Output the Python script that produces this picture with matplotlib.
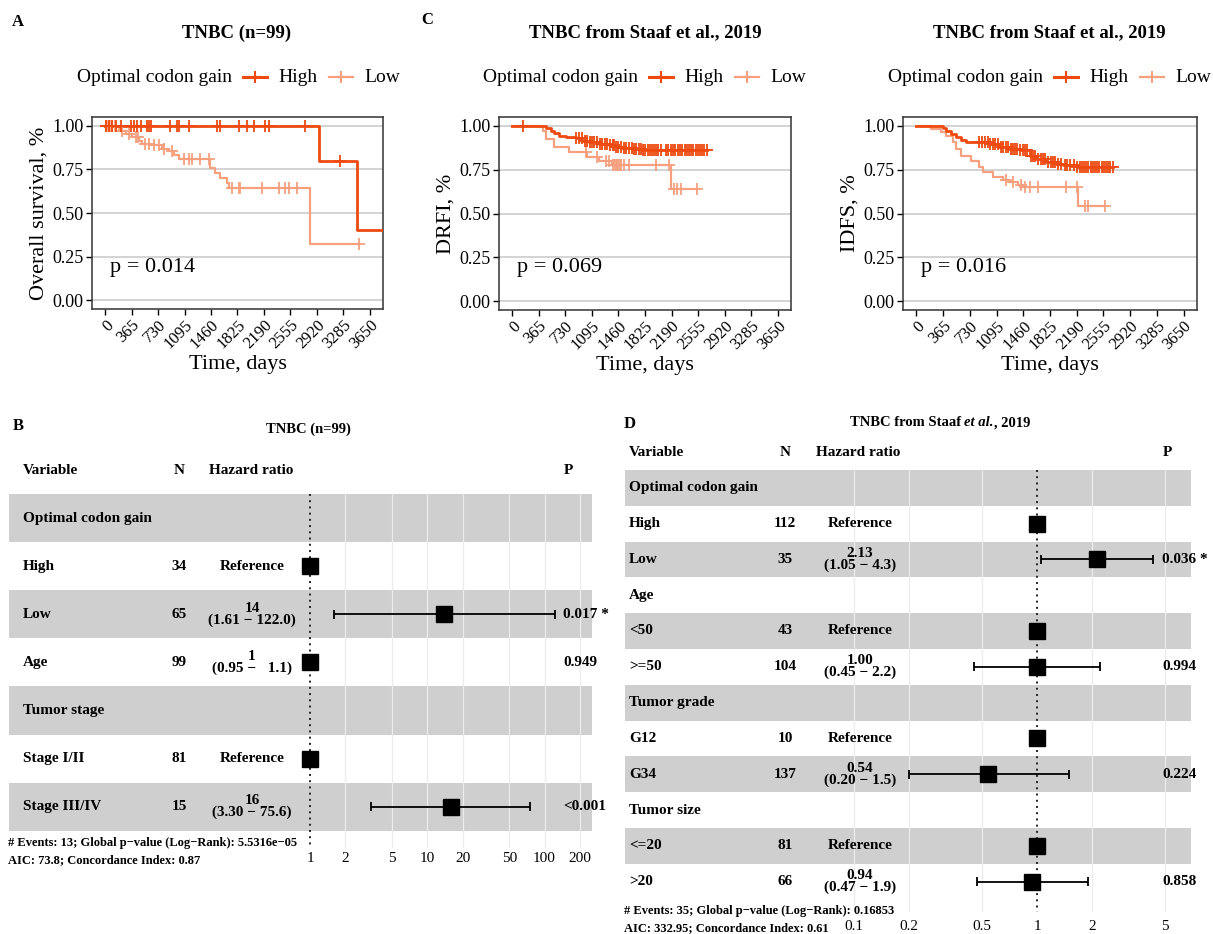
import numpy as np
import matplotlib.pyplot as plt
from matplotlib.lines import Line2D
from matplotlib.ticker import NullLocator
from matplotlib.transforms import blended_transform_factory

plt.rcParams['font.family'] = ['Liberation Serif', 'DejaVu Serif']

W, H = 1213, 934
HIGH_COL = '#EE4A10'
LOW_COL = '#F7A07F'
BAND = '#cfcfcf'

# ---------------- Kaplan-Meier curves ----------------
# A: overall survival, TNBC (n=99)
os_high_t = [0, 2950, 3470, 3900]
os_high_s = [1.0, 0.8, 0.4, 0.4]
os_high_cens = [5, 50, 96, 142, 211, 349, 395, 441, 487, 579, 602, 625, 900, 992,
                1024, 1162, 1543, 1589, 1842, 1956, 2048, 2208, 2254, 2759, 3241]
os_low_t = [0, 188, 280, 372, 462, 510, 624, 785, 877, 946, 1015, 1451, 1520, 1589,
            1681, 1704, 2828, 3503]
os_low_s = [1.0, 0.972, 0.953, 0.934, 0.915, 0.896, 0.887, 0.868, 0.853, 0.83, 0.812,
            0.755, 0.727, 0.699, 0.67, 0.646, 0.32, 0.32]
os_low_cens = [10, 40, 70, 100, 130, 234, 326, 418, 450, 555, 600, 670, 740, 808, 923,
               1084, 1153, 1199, 1314, 1429, 1750, 1842, 1865, 2163, 2392, 2484, 2530,
               2645, 3503]

# C: DRFI, Staaf et al. 2019
drfi_high_t = [0, 462, 531, 576, 645, 736, 873, 965, 1056, 1194, 1331, 1422, 1514,
               1651, 1788, 2680]
drfi_high_s = [1.0, 0.99, 0.97, 0.96, 0.944, 0.934, 0.928, 0.915, 0.908, 0.898, 0.889,
               0.88, 0.871, 0.866, 0.86, 0.86]
drfi_high_cens = [151, 880, 920, 960, 1000, 1030, 1070, 1100, 1130, 1160, 1200, 1240,
                  1270, 1300, 1340, 1380, 1400, 1430, 1460, 1500, 1530, 1560, 1600,
                  1640, 1680, 1700, 1740, 1770, 1800, 1830, 1860, 1890, 1920, 1950,
                  1980, 2010, 2040, 2110, 2140, 2180, 2210, 2240, 2280, 2310, 2340,
                  2370, 2400, 2430, 2460, 2490, 2520, 2550, 2580, 2610, 2640, 2680]
drfi_low_t = [0, 416, 462, 576, 782, 1034, 1194, 1377, 2177, 2543]
drfi_low_s = [1.0, 0.972, 0.925, 0.878, 0.849, 0.821, 0.80, 0.774, 0.638, 0.638]
drfi_low_cens = [1020, 1160, 1290, 1330, 1380, 1400, 1420, 1440, 1460, 1480, 1500,
                 1540, 1600, 1970, 2160, 2223, 2269, 2315, 2543]

# IDFS, Staaf et al. 2019
idfs_high_t = [0, 357, 402, 471, 540, 608, 677, 768, 997, 1134, 1271, 1409, 1546,
               1638, 1775, 1912, 2004, 2187, 2690]
idfs_high_s = [1.0, 0.99, 0.972, 0.953, 0.934, 0.92, 0.91, 0.906, 0.896, 0.88, 0.87,
               0.86, 0.83, 0.812, 0.793, 0.783, 0.774, 0.764, 0.764]
idfs_high_cens = [860, 900, 940, 980, 1010, 1050, 1080, 1120, 1150, 1180, 1220, 1250,
                  1290, 1320, 1350, 1380, 1420, 1450, 1480, 1510, 1560, 1590, 1620,
                  1660, 1700, 1730, 1760, 1800, 1840, 1870, 1900, 1940, 1980, 2030,
                  2060, 2100, 2150, 2200, 2230, 2260, 2290, 2320, 2350, 2380, 2410,
                  2440, 2470, 2500, 2530, 2560, 2590, 2620, 2650, 2690]
idfs_low_t = [0, 197, 334, 402, 494, 540, 608, 746, 860, 906, 1043, 1180, 1271, 1386,
              1454, 2209, 2575]
idfs_low_s = [1.0, 0.98, 0.962, 0.94, 0.906, 0.868, 0.83, 0.80, 0.764, 0.736, 0.708,
              0.69, 0.68, 0.66, 0.65, 0.54, 0.54]
idfs_low_cens = [1226, 1317, 1432, 1480, 1546, 1660, 2049, 2187, 2300, 2346, 2575]

km_xticks = [0, 365, 730, 1095, 1460, 1825, 2190, 2555, 2920, 3285, 3650]
km_yticks = [0.0, 0.25, 0.5, 0.75, 1.0]

# ---------------- Forest plot B: TNBC (n=99) ----------------
b_var = ["Optimal codon gain", "High", "Low", "Age", "Tumor stage", "Stage I/II",
         "Stage III/IV"]
b_n = ["", "34", "65", "99", "", "81", "15"]
b_hr = [np.nan, 1.0, 14.0, 1.0, np.nan, 1.0, 16.0]
b_lo = [np.nan, np.nan, 1.61, 0.95, np.nan, np.nan, 3.30]
b_hi = [np.nan, np.nan, 122.0, 1.1, np.nan, np.nan, 75.6]
b_hr_txt = ["", "Reference", "14\n(1.61 \u2212 122.0)", "1\n(0.95 \u2212   1.1)", "",
            "Reference", "16\n(3.30 \u2212 75.6)"]
b_p = ["", "", "0.017 *", "0.949", "", "", "<0.001"]
b_ticks = [1, 2, 5, 10, 20, 50, 100, 200]
b_foot = ["# Events: 13; Global p\u2212value (Log\u2212Rank): 5.5316e\u221205",
          "AIC: 73.8; Concordance Index: 0.87"]

# ---------------- Forest plot D: Staaf et al. 2019 ----------------
d_var = ["Optimal codon gain", "High", "Low", "Age", "<50", ">=50", "Tumor grade",
         "G12", "G34", "Tumor size", "<=20", ">20"]
d_n = ["", "112", "35", "", "43", "104", "", "10", "137", "", "81", "66"]
d_hr = [np.nan, 1.0, 2.13, np.nan, 1.0, 1.00, np.nan, 1.0, 0.54, np.nan, 1.0, 0.94]
d_lo = [np.nan, np.nan, 1.05, np.nan, np.nan, 0.45, np.nan, np.nan, 0.20, np.nan,
        np.nan, 0.47]
d_hi = [np.nan, np.nan, 4.3, np.nan, np.nan, 2.2, np.nan, np.nan, 1.5, np.nan,
        np.nan, 1.9]
d_hr_txt = ["", "Reference", "2.13\n(1.05 \u2212 4.3)", "", "Reference",
            "1.00\n(0.45 \u2212 2.2)", "", "Reference", "0.54\n(0.20 \u2212 1.5)", "",
            "Reference", "0.94\n(0.47 \u2212 1.9)"]
d_p = ["", "", "0.036 *", "", "", "0.994", "", "", "0.224", "", "", "0.858"]
d_ticks = [0.1, 0.2, 0.5, 1, 2, 5]
d_foot = ["# Events: 35; Global p\u2212value (Log\u2212Rank): 0.16853",
          "AIC: 332.95; Concordance Index: 0.61"]

fig = plt.figure(figsize=(W / 100, H / 100), dpi=100)


def rect(l, t, r, b):
    return [l / W, 1 - b / H, (r - l) / W, (b - t) / H]


def ftxt(x, y, s, **kw):
    return fig.text(x / W, 1 - y / H, s, **kw)


def km_panel(box, curves, ylabel, ptext, title, title_x, legend_x, letter=None):
    ax = fig.add_axes(rect(*box))
    for t, s, cens, col, lw in curves:
        t = np.array(t)
        s = np.array(s)
        ax.step(t, s, where='post', color=col, lw=lw, zorder=3)
        idx = np.searchsorted(t, cens, side='right') - 1
        ax.plot(cens, s[idx], ls='none', marker='+', ms=8, mew=1.3, color=col, zorder=4)
    ax.set_xlim(-182.5, 3832.5)
    ax.set_ylim(-0.05, 1.05)
    ax.set_xticks(km_xticks)
    ax.set_xticklabels([str(v) for v in km_xticks], rotation=45, ha='right',
                       va='top', rotation_mode='anchor', fontsize=12)
    ax.set_yticks(km_yticks)
    ax.set_yticklabels(['%.2f' % v for v in km_yticks], fontsize=13)
    ax.tick_params(length=4, width=1, pad=2)
    ax.yaxis.grid(True, color='#c8c8c8', lw=1.1)
    ax.set_axisbelow(True)
    for sp in ax.spines.values():
        sp.set_linewidth(1.1)
        sp.set_color('#333333')
    ax.set_xlabel('Time, days', fontsize=16, labelpad=2)
    ax.set_ylabel(ylabel, fontsize=16, labelpad=3)
    ax.text(60, 0.19, ptext, fontsize=16, va='center', ha='left')
    ftxt(title_x, 33, title, fontsize=13.5, fontweight='bold', ha='center', va='center')
    # legend drawn like ggplot's top legend
    ftxt(legend_x, 77, 'Optimal codon gain', fontsize=14, va='center', ha='left')
    for (k0, k1, tx, lab, col, lw) in [(166, 190, 201, 'High', HIGH_COL, 2.2),
                                        (252, 276, 287, 'Low', LOW_COL, 1.6)]:
        y = 1 - 77 / H
        fig.add_artist(Line2D([(legend_x + k0) / W, (legend_x + k1) / W], [y, y],
                              color=col, lw=lw))
        fig.add_artist(Line2D([(legend_x + (k0 + k1) / 2) / W], [y], color=col,
                              marker='+', ms=9, mew=1.5, ls='none'))
        ftxt(legend_x + tx, 77, lab, fontsize=14, va='center', ha='left')
    if letter:
        ftxt(letter[1], letter[2], letter[0], fontsize=12, fontweight='bold',
             ha='center', va='center')
    return ax


km_panel((92, 117, 383, 309),
         [(os_low_t, os_low_s, os_low_cens, LOW_COL, 1.6),
          (os_high_t, os_high_s, os_high_cens, HIGH_COL, 2.0)],
         'Overall survival, %', 'p = 0.014', 'TNBC (n=99)', 237, 77, ('A', 18, 22))
km_panel((499, 117, 791, 310),
         [(drfi_low_t, drfi_low_s, drfi_low_cens, LOW_COL, 1.6),
          (drfi_high_t, drfi_high_s, drfi_high_cens, HIGH_COL, 2.0)],
         'DRFI, %', 'p = 0.069', 'TNBC from Staaf et al., 2019', 645, 483,
         ('C', 427, 20))
km_panel((903, 117, 1197, 310),
         [(idfs_low_t, idfs_low_s, idfs_low_cens, LOW_COL, 1.6),
          (idfs_high_t, idfs_high_s, idfs_high_cens, HIGH_COL, 2.0)],
         'IDFS, %', 'p = 0.016', 'TNBC from Staaf et al., 2019', 1049, 888)


def forest(box, one_px, ppd, row0, row_h, var, n, hr, lo, hi, hr_txt, pv, cols,
           ticks, foot, foot_y, tick_pad):
    l, t, r, b = box
    ax = fig.add_axes(rect(l, t, r, b))
    ax.set_xscale('log')
    ax.set_xlim(10 ** ((l - one_px) / ppd), 10 ** ((r - one_px) / ppd))
    ybot = (b - row0) / row_h
    ax.set_ylim(ybot, (t - row0) / row_h)
    for sp in ax.spines.values():
        sp.set_visible(False)
    ax.set_yticks([])
    ax.set_xticks(ticks)
    ax.set_xticklabels([('%g' % v) for v in ticks])
    ax.xaxis.set_minor_locator(NullLocator())
    ax.tick_params(axis='x', length=0, pad=tick_pad, labelsize=11)
    rows = np.arange(1, len(var) + 1)
    for i in rows:
        if i % 2 == 1:
            ax.axhspan(i - 0.5, i + 0.5, color=BAND, lw=0, zorder=0)
    grid = [v for v in ticks if v != 1]
    ax.vlines(grid, 0.5, ybot, color='#ececec', lw=0.9, zorder=1)
    ax.vlines(1, 0.5, ybot, colors='#222222', linestyles=(0, (1, 2.2)), lw=1.4,
              zorder=2)
    cap = 4.5 / row_h
    lo = np.array(lo)
    hi = np.array(hi)
    ok = ~np.isnan(lo)
    ax.hlines(rows[ok], lo[ok], hi[ok], color='black', lw=1.3, zorder=3)
    ax.vlines(np.concatenate([lo[ok], hi[ok]]), np.concatenate([rows[ok], rows[ok]]) - cap,
              np.concatenate([rows[ok], rows[ok]]) + cap, color='black', lw=1.3, zorder=3)
    ax.plot(hr, rows, ls='none', marker='s', ms=11, color='black', zorder=4)
    tr = blended_transform_factory(fig.transFigure, ax.transData)
    kw = dict(transform=tr, fontsize=11, fontweight='bold', va='center')
    ax.text(cols['var'] / W, 0, 'Variable', ha='left', **kw)
    ax.text(cols['n'] / W, 0, 'N', ha='center', **kw)
    ax.text(cols['hrh'] / W, 0, 'Hazard ratio', ha='left', **kw)
    ax.text(cols['ph'] / W, 0, 'P', ha='center', **kw)
    for i, v, nn, ht, p in zip(rows, var, n, hr_txt, pv):
        ax.text(cols['var'] / W, i, v, ha='left', **kw)
        ax.text(cols['n'] / W, i, nn, ha='center', **kw)
        ax.text(cols['hr'] / W, i, ht, ha='center', multialignment='center',
                linespacing=0.85, **kw)
        ax.text(cols['p'] / W, i, p, ha='left', **kw)
    for s, y in zip(foot, foot_y):
        ftxt(cols['foot'], y, s, fontsize=9, fontweight='bold', ha='left', va='center')
    return ax


forest((9, 446, 592, 848), 310, 117.3, 470, 48.1, b_var, b_n, b_hr, b_lo, b_hi,
       b_hr_txt, b_p,
       dict(var=23, n=179, hr=252, hrh=209, p=563, ph=568, foot=8),
       b_ticks, b_foot, (843, 860), 3)
ftxt(18, 426, 'B', fontsize=12, fontweight='bold', ha='center', va='center')
ftxt(308, 429, 'TNBC (n=99)', fontsize=10.5, fontweight='bold', ha='center',
     va='center')

forest((625, 434, 1191, 912), 1037, 182.7, 452, 35.8, d_var, d_n, d_hr, d_lo, d_hi,
       d_hr_txt, d_p,
       dict(var=629, n=785, hr=860, hrh=816, p=1162, ph=1167, foot=624),
       d_ticks, d_foot, (911, 928), 6)
ftxt(630, 424, 'D', fontsize=12, fontweight='bold', ha='center', va='center')

# title of D with italic "et al." built from three pieces laid side by side
renderer = fig.canvas.get_renderer()
pieces = [('TNBC from Staaf ', 'normal'), ('et al.', 'italic'), (', 2019', 'normal')]
widths = []
for s, st in pieces:
    tmp = ftxt(0, 0, s, fontsize=10.5, fontweight='bold', fontstyle=st)
    widths.append(tmp.get_window_extent(renderer).width)
    tmp.remove()
x = 940 - sum(widths) / 2
for (s, st), w in zip(pieces, widths):
    ftxt(x, 423, s, fontsize=10.5, fontweight='bold', fontstyle=st, ha='left',
         va='center')
    x += w

fig.savefig('out.png', dpi=100)
